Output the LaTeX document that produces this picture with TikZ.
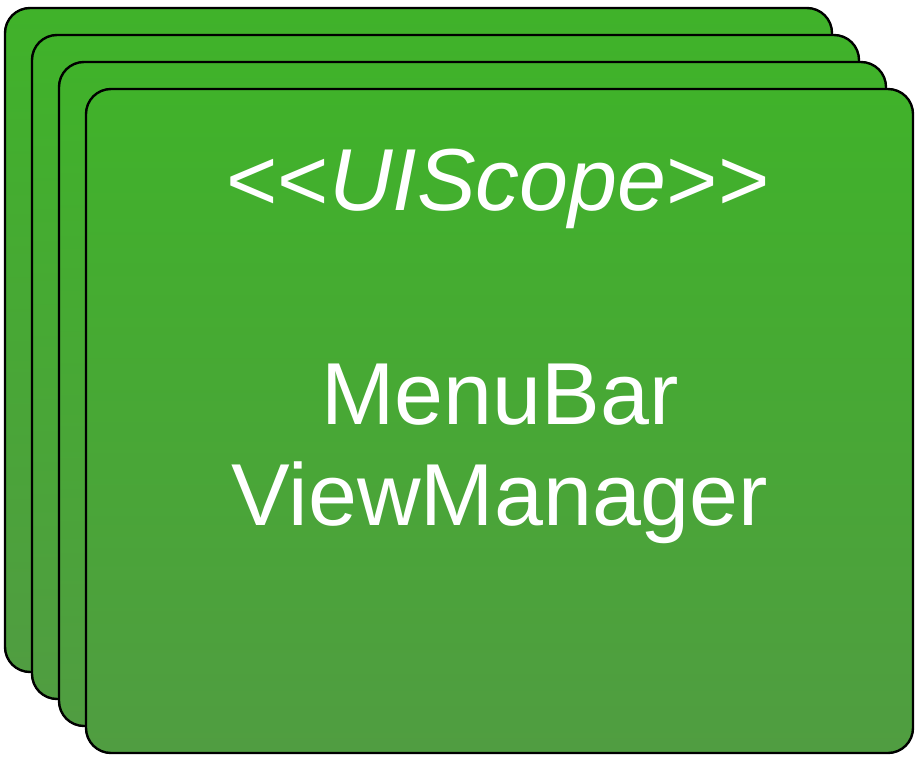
\documentclass[tikz,border=0pt]{standalone}
\usepackage{fontspec}
\setmainfont{Liberation Sans}
\definecolor{gtop}{HTML}{40B22A}
\definecolor{gbot}{HTML}{509D41}
\tikzset{
  card/.style={top color=gtop, bottom color=gbot, draw=black, line width=2.4pt, rounded corners=25pt},
  lbl/.style={anchor=base, text=white, inner sep=0pt, font=\fontsize{88}{100}\selectfont}
}
\begin{document}
\begin{tikzpicture}[x=1pt,y=-1pt]
\useasboundingbox (0,0) rectangle (923,759);
\shadedraw[card] (5,8) rectangle (832,672);
\shadedraw[card] (32,35) rectangle (859,699);
\shadedraw[card] (59,62) rectangle (886,726);
\shadedraw[card] (86,89) rectangle (913,753);
\node[lbl] (stereo) at (498,211) {<{}<\textit{UIScope}>{}>};
\node[lbl] (name1) at (500,424) {MenuBar};
\node[lbl] (name2) at (500,525) {ViewManager};
\end{tikzpicture}
\end{document}
